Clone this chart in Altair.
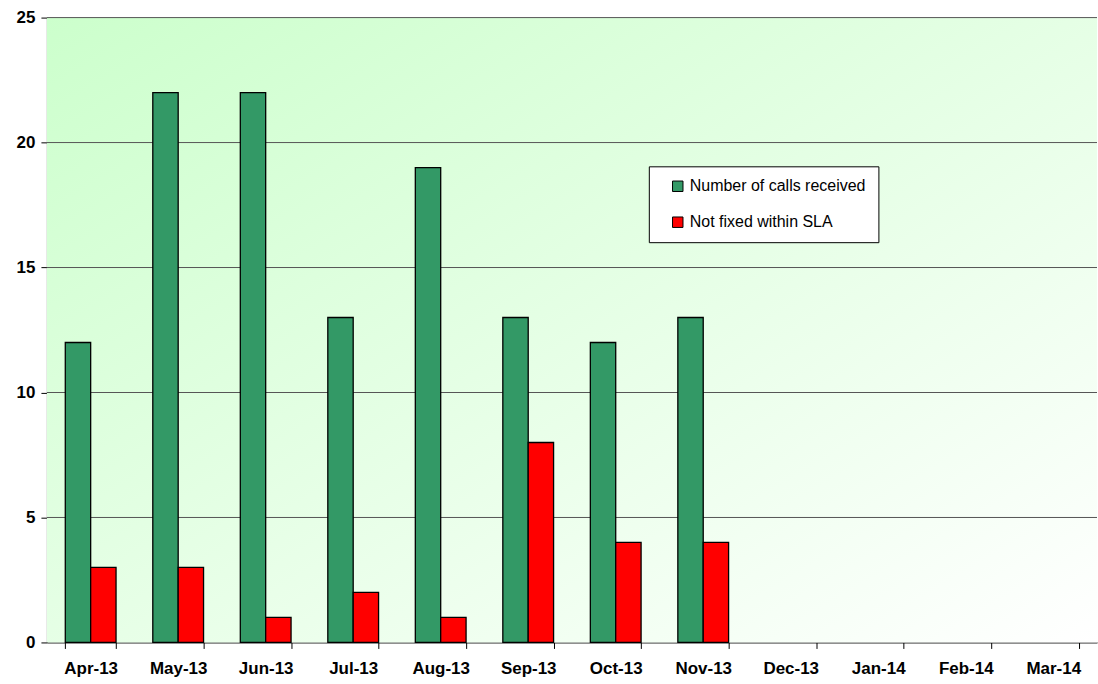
import altair as alt
import pandas as pd

months = ["Apr-13", "May-13", "Jun-13", "Jul-13", "Aug-13", "Sep-13",
          "Oct-13", "Nov-13", "Dec-13", "Jan-14", "Feb-14", "Mar-14"]
reported_months = ["Apr-13", "May-13", "Jun-13", "Jul-13", "Aug-13", "Sep-13",
                   "Oct-13", "Nov-13"]
calls_received = [12, 22, 22, 13, 19, 13, 12, 13]
not_fixed_sla = [3, 3, 1, 2, 1, 8, 4, 4]
series_names = ["Number of calls received", "Not fixed within SLA"]
series_colors = ["#339966", "#FF0000"]
y_ticks = [0, 5, 10, 15, 20, 25]
grid_values = [5, 10, 15, 20, 25]

W, H = 1052, 626

rows = []
for m, a, b in zip(reported_months, calls_received, not_fixed_sla):
    rows.append({"month": m, "series": series_names[0], "value": a})
    rows.append({"month": m, "series": series_names[1], "value": b})
bars_df = pd.DataFrame(rows)

y_scale = alt.Scale(domain=[0, 25], nice=False)
y_axis = alt.Axis(
    title=None, values=y_ticks, grid=False, tickSize=6,
    tickColor="#000000", domainColor="#000000",
    labelFont="Liberation Sans", labelFontSize=17,
    labelFontWeight="bold", labelColor="#000000", labelPadding=6,
)

# soft diagonal green wash behind the plot
background = alt.Chart(pd.DataFrame({"k": [0]})).mark_rect(
    fill=alt.Gradient(
        gradient="linear", x1=0, y1=0, x2=1, y2=1,
        stops=[alt.GradientStop(offset=0, color="#CCFFCC"),
               alt.GradientStop(offset=1, color="#FFFFFF")],
    ),
    strokeWidth=0,
).encode(x=alt.value(0), x2=alt.value(W), y=alt.value(0), y2=alt.value(H))

grid = alt.Chart(pd.DataFrame({"v": grid_values})).mark_rule(
    color="#555555", strokeWidth=1
).encode(
    y=alt.Y("v:Q", scale=y_scale, axis=y_axis),
    x=alt.value(0), x2=alt.value(W),
)

bars = alt.Chart(bars_df).mark_bar(
    stroke="#000000", strokeWidth=1.3
).encode(
    x=alt.X(
        "month:N",
        sort=months,
        scale=alt.Scale(domain=months, paddingInner=0.42, paddingOuter=0.21),
        axis=alt.Axis(
            title=None, labelAngle=0, tickBand="extent", tickSize=6,
            tickColor="#000000", domainColor="#000000",
            labelFont="Liberation Sans", labelFontSize=17,
            labelFontWeight="bold", labelColor="#000000", labelPadding=12,
        ),
    ),
    xOffset=alt.XOffset("series:N", sort=series_names),
    y=alt.Y("value:Q", scale=y_scale, axis=y_axis),
    color=alt.Color(
        "series:N",
        scale=alt.Scale(domain=series_names, range=series_colors),
        legend=alt.Legend(
            title=None, orient="none", legendX=603, legendY=149,
            symbolType="square", symbolSize=110, symbolStrokeColor="#000000",
            symbolStrokeWidth=1, symbolOffset=9, labelFont="Liberation Sans",
            labelFontSize=16, labelColor="#000000", labelOffset=4,
            rowPadding=20, padding=12, fillColor="#FFFFFF",
            strokeColor="#000000", labelLimit=400,
        ),
    ),
)

chart = alt.layer(background, grid, bars).properties(
    width=W, height=H,
    padding={"left": 16, "top": 8, "right": 0, "bottom": 0},
).configure_view(stroke=None)

chart.save("out.html", embed_options={"renderer": "svg", "actions": False})
